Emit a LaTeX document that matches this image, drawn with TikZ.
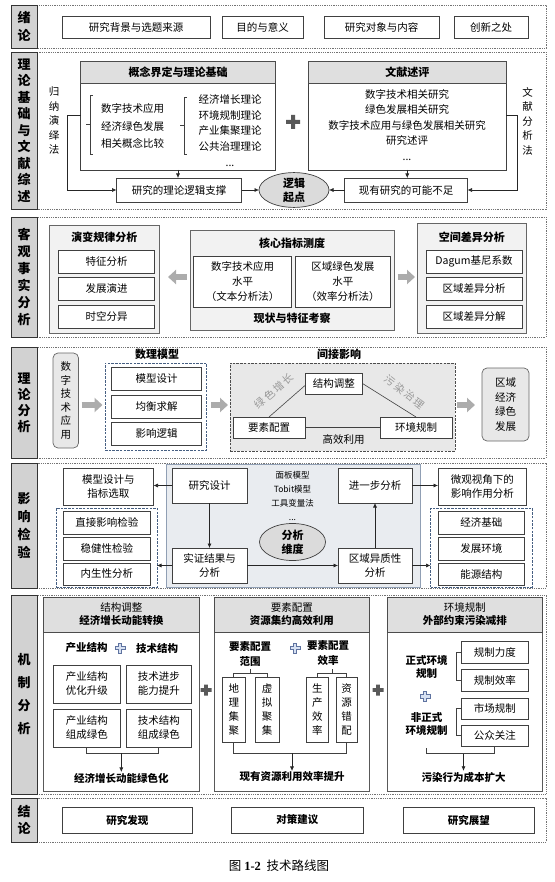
\documentclass[tikz,border=0pt]{standalone}
\usepackage{fontspec}
\setmainfont{Noto Sans CJK SC}
\newfontfamily\tnr{Liberation Serif}
\usetikzlibrary{arrows.meta,calc,shapes.geometric}
\definecolor{secline}{gray}{0.45}
\definecolor{bluedash}{RGB}{70,95,130}
\definecolor{zfill}{RGB}{233,236,240}
\definecolor{pluscol}{RGB}{95,115,160}
\definecolor{plusfill}{RGB}{215,225,242}
\newcommand\mybox[7]{\node[#6,anchor=north west,minimum width={(#4-#2)*1pt},minimum height={(#5-#3)*1pt}] (#1) at (#2,#3) {#7};}
\newcommand\fs[2]{\fontsize{#1}{#2}\selectfont}
\newcommand\gp{\hspace{1.8pt}}
\begin{document}
\begin{tikzpicture}[x=1pt,y=-1pt,
 every node/.style={align=center,inner sep=1pt,outer sep=0pt,font=\fs{10.5}{13}},
 sec/.style={draw=secline,line width=0.8pt,dash pattern=on 1pt off 0.8pt},
 lab/.style={draw=black!80,fill=gray!35,line width=0.9pt,inner sep=0pt,font=\fs{13}{#1}\bfseries},
 box/.style={draw=black!75,fill=white,line width=0.6pt},
 hdr/.style={draw=black!70,fill=gray!25,line width=0.7pt},
 pnl/.style={draw=black!60,fill=gray!10,line width=0.8pt},
 panel/.style={draw=black!65,fill=white,line width=0.8pt},
 rbox/.style={draw=black!60,fill=gray!18,rounded corners=5pt,line width=0.7pt},
 zbox/.style={draw=bluedash!60,fill=zfill,line width=0.8pt},
 bdash/.style={draw=bluedash,dash pattern=on 2.5pt off 1.2pt,line width=0.9pt},
 gdash/.style={draw=black!70,fill=gray!18,dash pattern=on 2.5pt off 1.2pt,line width=0.9pt},
 tb/.style={font=\fs{10.5}{13}\bfseries},
 ell/.style={ellipse,draw=black!75,fill=gray!28,inner sep=0pt,line width=0.7pt,font=\fs{11}{14}\bfseries},
 arr/.style={-{Latex[length=4.5pt,width=4pt]},line width=0.6pt,draw=black!85},
 lnk/.style={line width=0.6pt,draw=black!75},
 big/.style={draw=gray!65,line width=6pt,-{Triangle[length=8pt,width=14pt]}},
 oplus/.pic={\draw[draw=pluscol,fill=plusfill,line width=0.7pt] (-1.7,-5) -- (1.7,-5) -- (1.7,-1.7) -- (5,-1.7) -- (5,1.7) -- (1.7,1.7) -- (1.7,5) -- (-1.7,5) -- (-1.7,1.7) -- (-5,1.7) -- (-5,-1.7) -- (-1.7,-1.7) -- cycle;},
 bigplusA/.pic={\fill[black!65] (-7,-2) rectangle (7,2) (-2,-7) rectangle (2,7);},
 bigplusB/.pic={\fill[black!65] (-5.5,-1.8) rectangle (5.5,1.8) (-1.8,-5.5) rectangle (1.8,5.5);}
]
\useasboundingbox (0,0) rectangle (554,882);

% ---------- S1 绪论
\draw[sec] (11,5) rectangle (546,48);
\mybox{L1}{11}{5}{37}{48}{lab=18}{绪\\论}
\mybox{a1}{62}{16}{210}{38}{box}{研究背景与选题来源}
\mybox{a2}{222}{16}{303}{38}{box}{目的与意义}
\mybox{a3}{324}{16}{439}{38}{box}{研究对象与内容}
\mybox{a4}{454}{16}{528}{38}{box}{创新之处}

% ---------- S2
\draw[sec] (11,52) rectangle (546,209);
\mybox{L2}{11}{52}{37}{209}{lab=16.5}{理\\论\\基\\础\\与\\文\\献\\综\\述}
\mybox{C}{80.5}{61}{275.5}{170}{box,line width=0.8pt}{}
\mybox{Ch}{80.5}{61}{275.5}{83}{hdr,font=\fs{11}{13}\bfseries}{概念界定与理论基础}
\node[font=\fs{10.5}{17.5}] (c1) at (132.5,126) {数字技术应用\\经济绿色发展\\相关概念比较};
\draw[lnk] (93,95) -- (90,95) -- (90,154) -- (93,154) (90,124.5) -- (86,124.5);
\node[font=\fs{10.5}{15.75}] (c2) at (230,130.5) {经济增长理论\\环境规制理论\\产业集聚理论\\公共治理理论\\...};
\draw[lnk] (187,97) -- (184,97) -- (184,154) -- (187,154) (184,125) -- (180,125);
\pic at (293,122) {bigplusA};
\mybox{Lt}{308.5}{61}{506}{170}{box,line width=0.8pt}{}
\mybox{Lth}{308.5}{61}{506}{83}{hdr,font=\fs{11}{13}\bfseries}{文献述评}
\node[font=\fs{10.5}{15.5}] (l1) at (407,125) {数字技术相关研究\\绿色发展相关研究\\数字技术应用与绿色发展相关研究\\研究述评\\...};
\node[font=\fs{10.5}{14.5}] (m1) at (54,121) {归\\纳\\演\\绎\\法};
\node[font=\fs{10.5}{14.5}] (m2) at (527.5,121) {文\\献\\分\\析\\法};
\mybox{R1}{116.5}{178}{241.5}{202}{box}{研究的理论逻辑支撑}
\node[ell,minimum width=70pt,minimum height=32pt] (E1) at (294,190) {逻辑\\起点};
\mybox{R2}{344.5}{178}{467.5}{202}{box}{现有研究的可能不足}
\draw[arr] (C.south) -- (C.south |- R1.north);
\draw[arr] (Lt.south) -- (Lt.south |- R2.north);
\draw[arr] (C.west) -- ++(-13.5,0) |- (R1.west);
\draw[arr] (Lt.east) -- ++(11.5,0) |- (R2.east);
\draw[arr] (R1.east) -- (E1.west);
\draw[arr] (R2.west) -- (E1.east);

% ---------- S3
\draw[sec] (11,217) rectangle (546,337);
\mybox{L3}{11}{217}{37}{337}{lab=17}{客\\观\\事\\实\\分\\析}
\mybox{G1}{49.5}{225}{159}{333}{pnl}{}
\node[font=\fs{11}{13}\bfseries] (g1t) at (104.25,237) {演变规律分析};
\mybox{g11}{58.5}{250}{154.5}{273}{box}{特征分析}
\mybox{g12}{58.5}{277}{154.5}{300}{box}{发展演进}
\mybox{g13}{58.5}{305}{154.5}{328}{box}{时空分异}
\mybox{G2}{190}{230}{394}{330}{pnl}{}
\node[font=\fs{11}{13}\bfseries] (g2t) at (292,243) {核心指标测度};
\mybox{g21}{193.5}{256}{291.5}{307}{box,font=\fs{10.5}{15}}{数字技术应用\\水平\\（文本分析法）}
\mybox{g22}{295}{256}{390.5}{307}{box,font=\fs{10.5}{15}}{区域绿色发展\\水平\\（效率分析法）}
\node[font=\fs{11}{13}\bfseries] (g2b) at (292,318) {现状与特征考察};
\mybox{G3}{417}{223}{526.5}{333}{pnl}{}
\node[font=\fs{11}{13}\bfseries] (g3t) at (471.75,237) {空间差异分析};
\mybox{g31}{426}{250}{522}{273}{box}{Dagum基尼系数}
\mybox{g32}{426}{277}{522}{300}{box}{区域差异分析}
\mybox{g33}{426}{305}{522}{328}{box}{区域差异分解}
\draw[big,shorten <=3pt,shorten >=9pt] (G2.west |- 0,277) -- (G1.east |- 0,277);
\draw[big,shorten <=3.5pt,shorten >=2pt] (G2.east |- 0,277) -- (G3.west |- 0,277);

% ---------- S4
\draw[sec] (11,347) rectangle (546,458);
\mybox{L4}{11}{347}{37}{458}{lab=16}{理\\论\\分\\析}
\mybox{D1}{53}{353}{78.5}{448}{rbox,font=\fs{10.5}{13.5}}{数\\字\\技\\术\\应\\用}
\node[font=\fs{11}{13}\bfseries] (t41) at (157,354) {数理模型};
\node[font=\fs{11}{13}\bfseries] (t42) at (339,354) {间接影响};
\mybox{M}{105}{363}{206.5}{450}{bdash}{}
\mybox{m1}{111.5}{367}{201.5}{390}{box}{模型设计}
\mybox{m2}{111.5}{395}{201.5}{418}{box}{均衡求解}
\mybox{m3}{111.5}{422}{201.5}{445}{box}{影响逻辑}
\mybox{N}{230}{363}{455}{451}{gdash}{}
\mybox{K}{305}{373}{362.5}{394}{box}{结构调整}
\mybox{F1}{233}{417}{305}{438}{box}{要素配置}
\mybox{F2}{380}{417}{452}{438}{box}{环境规制}
\draw[lnk] ([yshift=-2pt]K.west) -- (F1.north);
\draw[lnk] (K.east) -- (F2.north);
\draw[lnk] (F1.east) -- (F2.west);
\node[rotate=41,text=gray!80] (gg) at (274,391) {绿\gp 色\gp 增\gp 长};
\node[rotate=-38,text=gray!80] (wr) at (405,392) {污\gp 染\gp 治\gp 理};
\node (gx) at (343.5,440) {高效利用};
\mybox{D2}{482}{368}{529}{441}{rbox,font=\fs{10.5}{14.7}}{区域\\经济\\绿色\\发展}
\draw[big,shorten <=3pt,shorten >=2.5pt] (D1.east |- 0,405) -- (M.west |- 0,405);
\draw[big,shorten <=4.5pt,shorten >=2pt] (M.east |- 0,405) -- (N.west |- 0,405);
\draw[big,shorten <=1.5pt,shorten >=7pt] (N.east |- 0,405) -- (D2.west |- 0,405);

% ---------- S5
\draw[sec] (11,463) rectangle (546,588);
\mybox{L5}{11}{463}{37}{588}{lab=18}{影\\响\\检\\验}
\mybox{Z}{166}{464}{420.5}{587}{zbox}{}
\mybox{Y1}{172}{468}{247}{503}{box}{研究设计}
\mybox{Y2}{172}{548}{247}{583}{box,font=\fs{10.5}{14}}{实证结果与\\分析}
\mybox{Y3}{338}{468}{412}{503}{box}{进一步分析}
\mybox{Y4}{338}{548}{412}{583}{box,font=\fs{10.5}{14}}{区域异质性\\分析}
\node[font=\fs{8.5}{14}] (zt) at (292.5,496) {面板模型\\Tobit模型\\工具变量法\\...};
\node[ell,minimum width=66pt,minimum height=37pt] (E2) at (292.5,542) {分析\\维度};
\mybox{X1}{63}{468}{153.5}{505}{box,font=\fs{10.5}{14}}{模型设计与\\指标选取}
\mybox{LD}{56}{508}{157}{587}{bdash}{}
\mybox{x11}{63.5}{511}{150}{534}{box}{直接影响检验}
\mybox{x12}{63.5}{537}{150}{560}{box}{稳健性检验}
\mybox{x13}{63.5}{563}{150}{585}{box}{内生性分析}
\mybox{X2}{438}{468}{526.5}{505}{box,font=\fs{10.5}{14}}{微观视角下的\\影响作用分析}
\mybox{RD}{430.5}{508}{532}{587}{bdash}{}
\mybox{x21}{438}{511}{524.5}{534}{box}{经济基础}
\mybox{x22}{438}{537}{524.5}{560}{box}{发展环境}
\mybox{x23}{438}{563}{524.5}{585}{box}{能源结构}
\draw[arr] (Y1.west) -- (Y1.west -| X1.east);
\draw[arr] (Y1.south) -- (Y2.north);
\draw[arr] (Y2.east) -- (Y4.west);
\draw[arr] (Y4.north) -- (Y3.south);
\draw[arr] (Y3.east) -- (Y3.east -| X2.west);
\draw[arr] (Y2.west) -- (Y2.west -| LD.east);
\draw[arr] (Y4.east) -- (Y4.east -| RD.west);

% ---------- S6
\draw[sec] (11,595) rectangle (546,794);
\mybox{L6}{11}{595}{37}{794}{lab=23}{机\\制\\分\\析}
% panel 1
\mybox{P1}{43}{597}{199.5}{791}{panel}{}
\mybox{H1}{43}{597}{199.5}{632}{hdr}{结构调整\\\textbf{经济增长动能转换}}
\node[tb] (p11) at (86.5,648) {产业结构};
\pic at (120,648) {oplus};
\node[tb] (p12) at (157,648) {技术结构};
\mybox{B11}{53.5}{665}{120}{703}{box,font=\fs{10.5}{14}}{产业结构\\优化升级}
\mybox{B12}{126.5}{665}{191}{703}{box,font=\fs{10.5}{14}}{技术进步\\能力提升}
\mybox{B21}{53.5}{709}{120}{747}{box,font=\fs{10.5}{14}}{产业结构\\组成绿色}
\mybox{B22}{126.5}{709}{191}{747}{box,font=\fs{10.5}{14}}{技术结构\\组成绿色}
\node[tb] (T1) at (121.3,778) {经济增长动能绿色化};
\draw[lnk] (B21.south) -- ++(0,6) -| (B22.south);
\draw[arr] (T1.north |- 0,753) -- (T1.north);
\pic at (206,690) {bigplusB};
% panel 2
\mybox{P2}{214.5}{597}{369}{791}{panel}{}
\mybox{H2}{214.5}{597}{369}{632}{hdr}{要素配置\\\textbf{资源集约高效利用}}
\node[font=\fs{10.5}{15}\bfseries] (Q1) at (250,653.5) {要素配置\\范围};
\pic at (295,648) {oplus};
\node[font=\fs{10.5}{15}\bfseries] (Q2) at (328,653.5) {要素配置\\效率};
\mybox{V1}{222.5}{677.5}{245}{742}{box,font=\fs{10.5}{14}}{地\\理\\集\\聚}
\mybox{V2}{255}{677.5}{279}{742}{box,font=\fs{10.5}{14}}{虚\\拟\\聚\\集}
\mybox{V3}{306}{677.5}{328.5}{742}{box,font=\fs{10.5}{14}}{生\\产\\效\\率}
\mybox{V4}{336}{677.5}{357}{742}{box,font=\fs{10.5}{14}}{资\\源\\错\\配}
\draw[lnk] (V1.north) -- ++(0,-4.5) -| (V2.north);
\draw[lnk] ($(V1.north)!0.5!(V2.north)+(0,-4.5)$) -- ++(0,-4);
\draw[lnk] (V3.north) -- ++(0,-4.5) -| (V4.north);
\draw[lnk] ($(V3.north)!0.5!(V4.north)+(0,-4.5)$) -- ++(0,-4);
\draw[lnk] (V1.south) -- ++(0,11) -| (V4.south);
\node[tb] (T2) at (292,777) {现有资源利用效率提升};
\draw[arr] (T2.north |- 0,753) -- (T2.north);
\pic at (378,690) {bigplusB};
% panel 3
\mybox{P3}{387}{597}{542.5}{791}{panel}{}
\mybox{H3}{387}{597}{542.5}{632}{hdr}{环境规制\\\textbf{外部约束污染减排}}
\node[tb] (W1) at (426.5,666.5) {正式环境\\规制};
\mybox{J1}{461.5}{641.5}{528}{663.5}{box}{规制力度}
\mybox{J2}{461.5}{669}{528}{691.5}{box}{规制效率}
\draw[lnk] (J1.west) -- ++(-5,0) |- (J2.west);
\pic at (425,696.5) {oplus};
\node[tb] (W2) at (426.5,723.5) {非正式\\环境规制};
\mybox{J3}{461.5}{698}{528}{719}{box}{市场规制}
\mybox{J4}{461.5}{725}{528}{746.5}{box}{公众关注}
\draw[lnk] (J3.west) -- ++(-5,0) |- (J4.west);
\coordinate (w2b) at (426.5,748);
\draw[lnk] (J4.south) -- ++(0,7) -| (w2b);
\node[tb] (T3) at (463.5,777) {污染行为成本扩大};
\draw[arr] (T3.north |- 0,753.5) -- (T3.north);

% ---------- S7
\draw[sec] (11,798) rectangle (546,842);
\mybox{L7}{11}{798}{37}{842}{lab=17}{结\\论}
\mybox{s1}{62}{807}{192.5}{833}{box,font=\fs{10.5}{13}\bfseries}{研究发现}
\mybox{s2}{231.5}{807}{363}{833}{box,font=\fs{10.5}{13}\bfseries}{对策建议}
\mybox{s3}{403}{807}{534.5}{833}{box,font=\fs{10.5}{13}\bfseries}{研究展望}

\node[font=\fs{12.5}{14}] (cap) at (279,866) {图 {\tnr\bfseries 1-2}\ \ 技术路线图};
\end{tikzpicture}
\end{document}
